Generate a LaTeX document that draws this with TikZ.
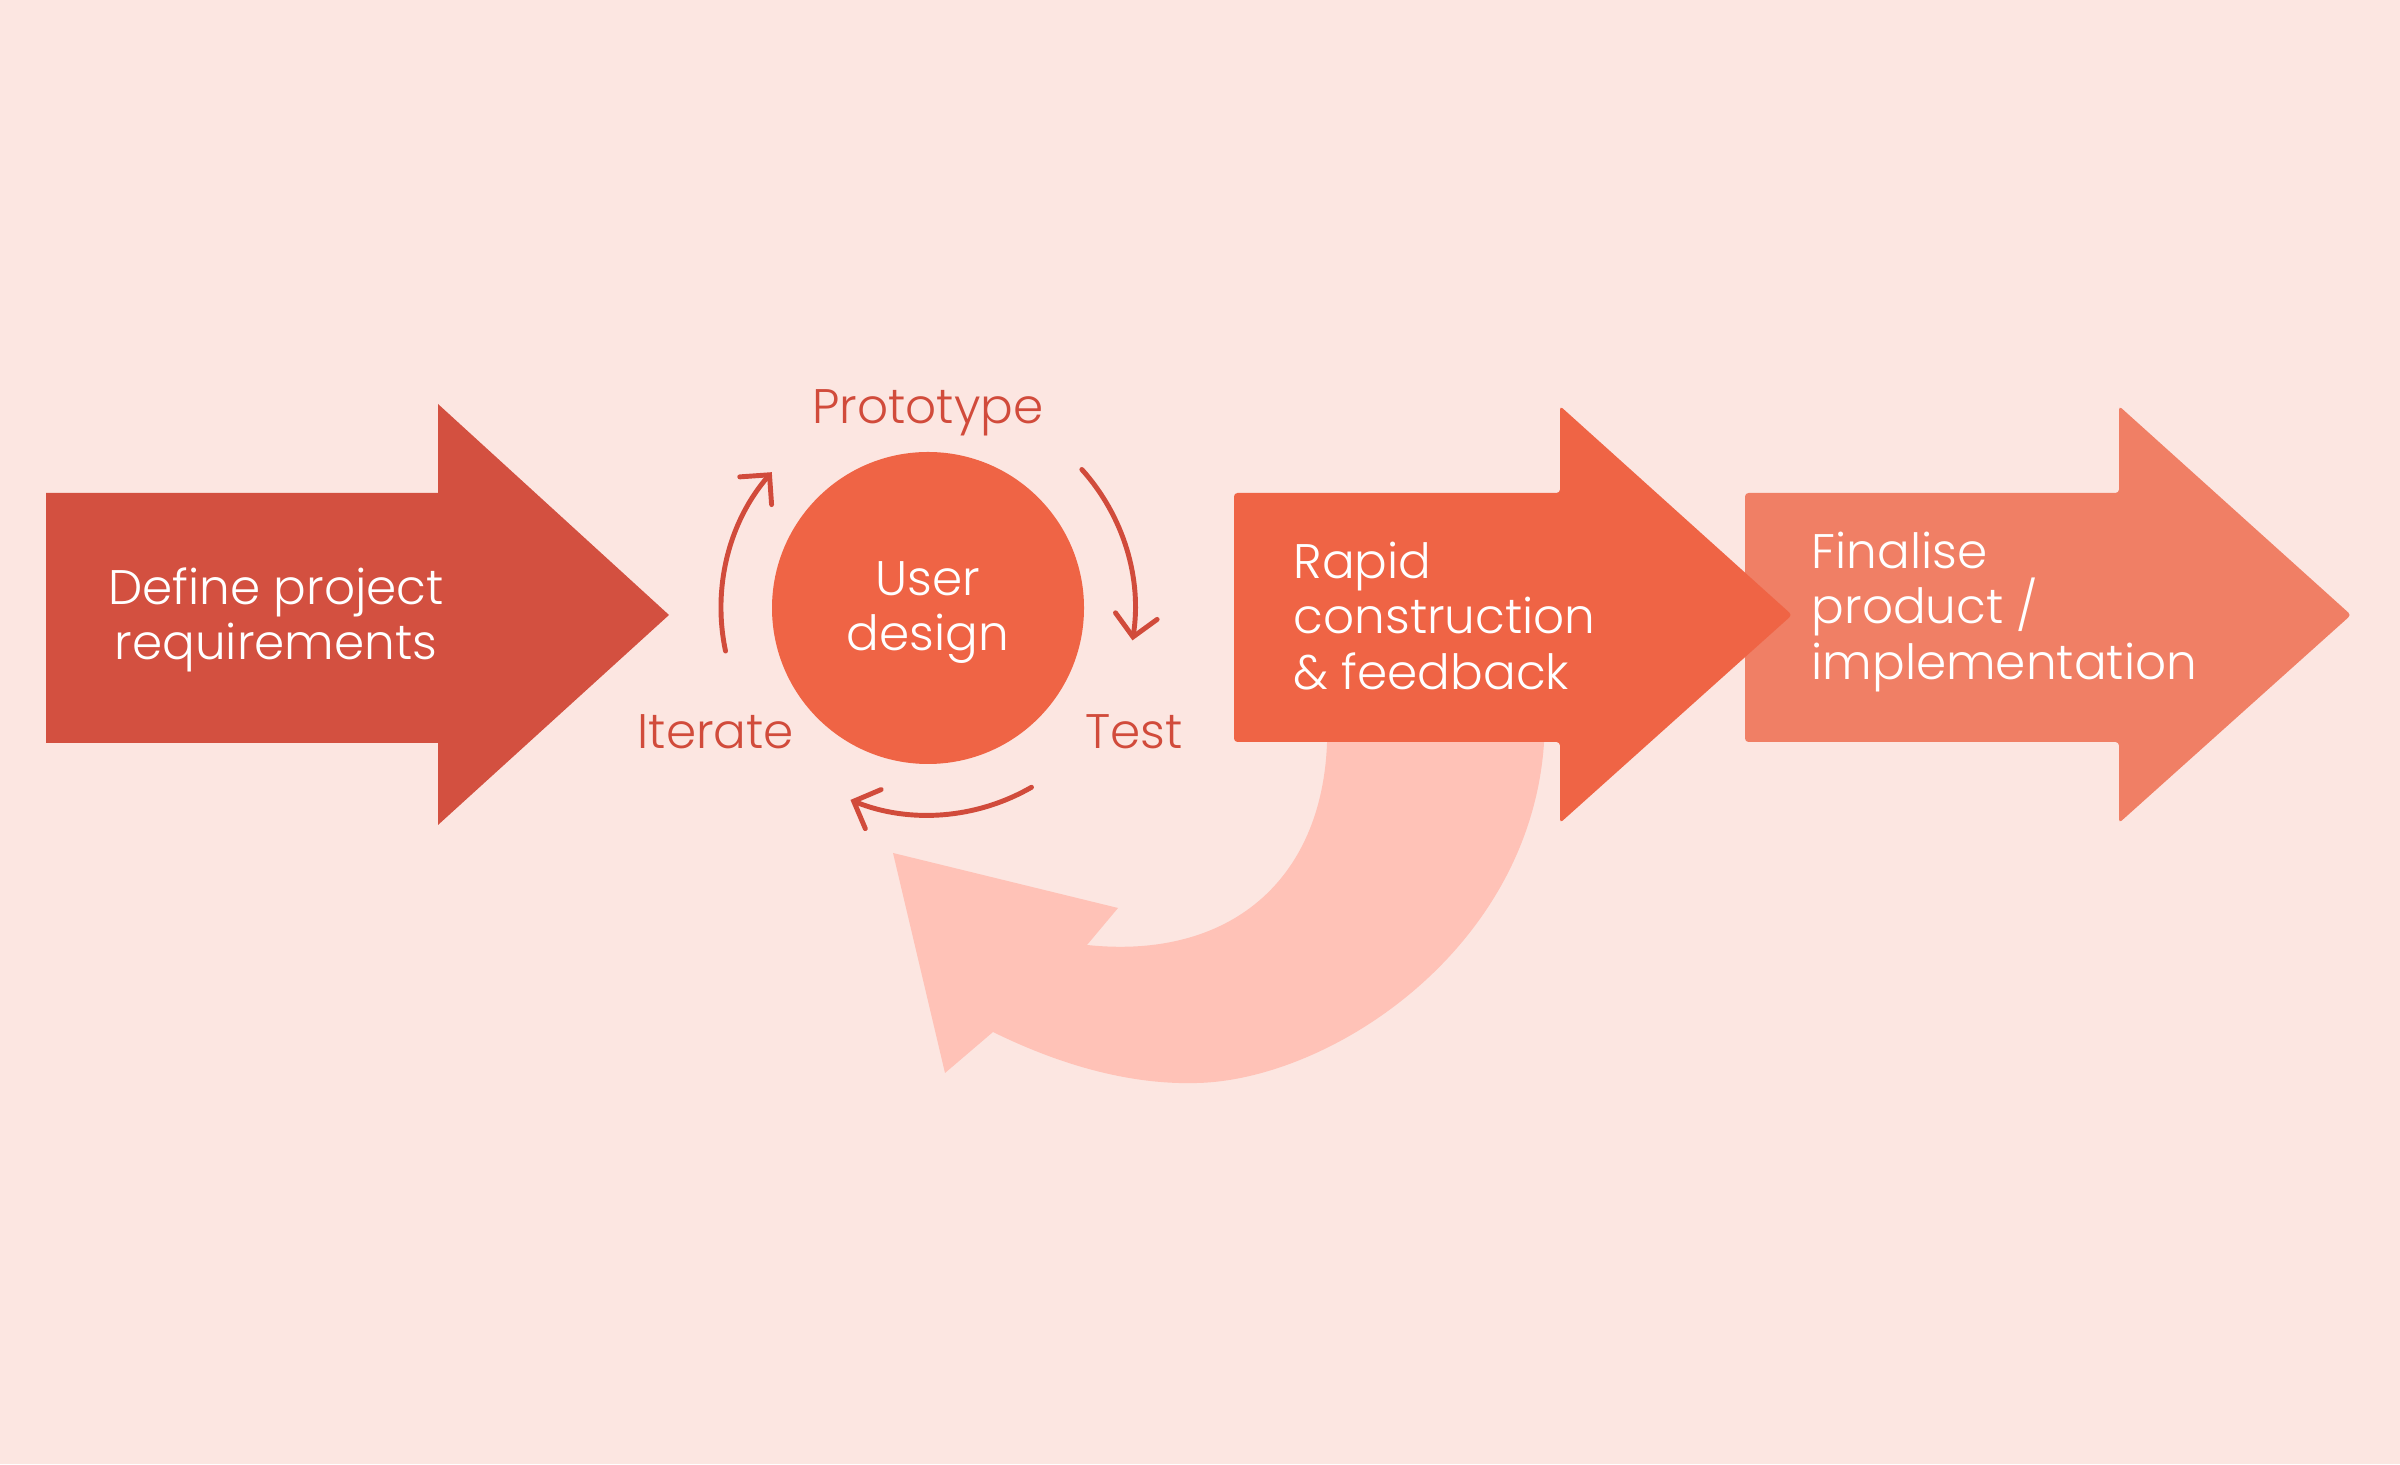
\documentclass[tikz,border=0pt]{standalone}
\usepackage{fontspec}
\IfFontExistsTF{Poppins Light}{\setmainfont{Poppins Light}}{\setmainfont{Poppins}}
\usepackage{tikz}
\usetikzlibrary{positioning, arrows.meta}
\definecolor{pagebg}{HTML}{FCE6E1}
\definecolor{brick}{HTML}{D35040}
\definecolor{coral}{HTML}{EF6445}
\definecolor{salmon}{HTML}{F07F65}
\definecolor{blush}{HTML}{FFC2B7}
\definecolor{redtext}{HTML}{D14B3B}

\begin{document}
\begin{tikzpicture}[
  txt/.style={font=\fontsize{13.8}{15.8}\selectfont, text=white, inner sep=0pt},
  steplbl/.style={font=\fontsize{13.8}{15.8}\selectfont, text=redtext, inner sep=0pt},
  cyc/.style={draw=redtext, line width=1.4pt, line cap=round, -{Straight Barb[length=6pt, width=12pt, line cap=round]}}
]
  % page
  \fill[pagebg] (0,0) rectangle (24,14.64);

  % feedback loop back to the design cycle
  \fill[blush] (13.27,7.64) -- (13.27,7.21)
    .. controls (13.22,5.84) and (12.30,5.04) .. (10.87,5.19)
    -- (11.18,5.56) -- (8.93,6.11) -- (9.45,3.91) -- (9.93,4.32)
    .. controls (10.60,3.99) and (11.30,3.79) .. (11.97,3.81)
    .. controls (13.30,3.84) and (15.30,5.14) .. (15.44,7.21)
    -- (15.44,7.64) -- cycle;

  % phase arrows
  \fill[brick] (0.46,7.21) -- (0.46,9.71) -- (4.38,9.71) -- (4.38,10.60) -- (6.69,8.49) -- (4.38,6.39) -- (4.38,7.21) -- cycle;
  \fill[salmon, rounded corners=1pt] (17.45,7.22) -- (17.45,9.71) -- (21.19,9.71) -- (21.19,10.58) -- (23.51,8.49) -- (21.19,6.41) -- (21.19,7.22) -- cycle;
  \fill[coral, rounded corners=1pt] (12.34,7.22) -- (12.34,9.71) -- (15.60,9.71) -- (15.60,10.58) -- (17.92,8.49) -- (15.60,6.41) -- (15.60,7.22) -- cycle;

  \node[txt, align=center] (define) at (2.76,8.44) {Define project\\requirements};
  \node[txt, align=left, anchor=west] (rapid) at (12.93,8.48) {Rapid\\construction\\\& feedback};
  \node[txt, align=left, anchor=west] (final) at (18.11,8.52) {Finalise\\product /\\implementation};

  % design cycle
  \node[circle, fill=coral, minimum size=3.12cm, inner sep=0pt] (user) at (9.28,8.56) {};
  \node[txt, align=center] (userlbl) at ([yshift=-0.045cm]user.center) {User\\design};
  \node[steplbl] (proto) at (9.28,10.51) {Prototype};
  \node[steplbl] (iter) at (7.16,7.32) {Iterate};
  \node[steplbl] (test) at (11.34,7.32) {Test};

  \draw[cyc] ([shift={(192:2.07)}]user.center) arc[start angle=192, end angle=139, radius=2.07];
  \draw[cyc] ([shift={(42:2.07)}]user.center) arc[start angle=42, end angle=-9, radius=2.07];
  \draw[cyc] ([shift={(-60:2.07)}]user.center) arc[start angle=-60, end angle=-112, radius=2.07];
\end{tikzpicture}
\end{document}
